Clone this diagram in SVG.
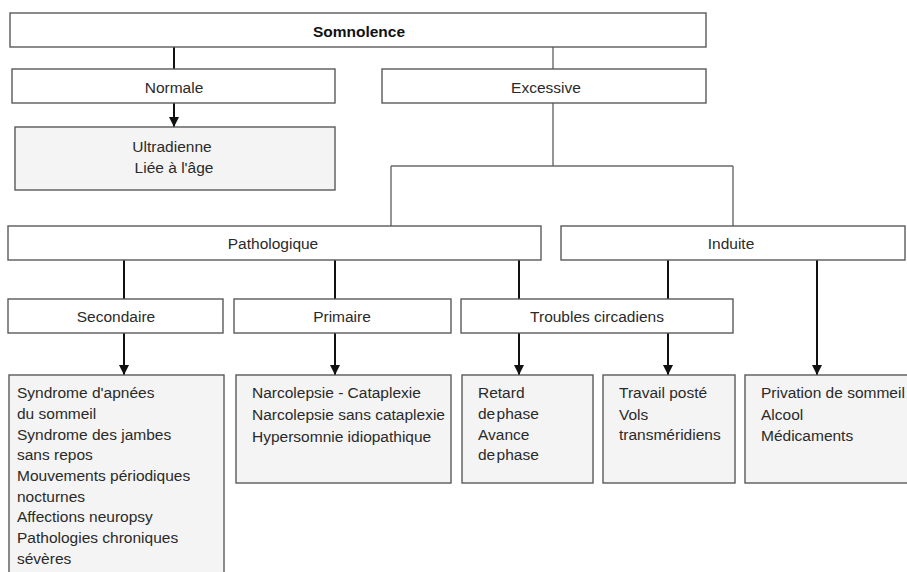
<svg xmlns="http://www.w3.org/2000/svg" width="907" height="572" viewBox="0 0 907 572">
<style>
.box{fill:#ffffff;stroke:#5a5a5a;stroke-width:1.4}
.lst{fill:#f4f4f4;stroke:#5a5a5a;stroke-width:1.4}
.t{font-family:"Liberation Sans",Arial,sans-serif;font-size:15.5px;fill:#2a2a2a}
.c{text-anchor:middle}
.b{font-weight:bold;fill:#111}
.dk{stroke:#111;stroke-width:2;fill:none}
.gr{stroke:#6a6a6a;stroke-width:1.4;fill:none}
</style>
<defs>
<marker id="ah" viewBox="0 0 10 10" refX="10" refY="5" markerWidth="5" markerHeight="5" markerUnits="strokeWidth" orient="auto">
<path d="M0,0 L10,5 L0,10 Z" fill="#111"/>
</marker>
</defs>
<rect width="907" height="572" fill="#ffffff"/>
<g id="connectors">
<line class="dk" x1="174" y1="47" x2="174" y2="69"/>
<line class="gr" x1="553" y1="47" x2="553" y2="69"/>
<line class="dk" x1="174" y1="103" x2="174" y2="127" marker-end="url(#ah)"/>
<path class="gr" d="M553,103 V166 M391,166 H733 M391,166 V226 M733,166 V226"/>
<line class="dk" x1="124" y1="260" x2="124" y2="299"/>
<line class="dk" x1="335" y1="260" x2="335" y2="299"/>
<line class="dk" x1="519" y1="260" x2="519" y2="299"/>
<line class="dk" x1="668" y1="260" x2="668" y2="299"/>
<line class="dk" x1="124" y1="333" x2="124" y2="375" marker-end="url(#ah)"/>
<line class="dk" x1="335" y1="333" x2="335" y2="375" marker-end="url(#ah)"/>
<line class="dk" x1="519" y1="333" x2="519" y2="375" marker-end="url(#ah)"/>
<line class="dk" x1="668" y1="333" x2="668" y2="375" marker-end="url(#ah)"/>
<line class="dk" x1="817" y1="260" x2="817" y2="375" marker-end="url(#ah)"/>
</g>
<g id="somnolence"><rect class="box" x="10" y="13" width="696" height="34"/><text class="t c b" x="359" y="37">Somnolence</text></g>
<g id="normale"><rect class="box" x="12" y="69" width="323" height="34"/><text class="t c" x="174" y="93">Normale</text></g>
<g id="excessive"><rect class="box" x="382" y="69" width="324" height="34"/><text class="t c" x="546" y="93">Excessive</text></g>
<g id="ultradienne"><rect class="lst" x="15" y="127" width="320" height="63"/><text class="t c" x="172" y="152">Ultradienne</text><text class="t c" x="174" y="173">Liée à l'âge</text></g>
<g id="pathologique"><rect class="box" x="8" y="226" width="533" height="34"/><text class="t c" x="273" y="249">Pathologique</text></g>
<g id="induite"><rect class="box" x="561" y="226" width="344" height="34"/><text class="t c" x="731" y="249">Induite</text></g>
<g id="secondaire"><rect class="box" x="8" y="299" width="215" height="34"/><text class="t c" x="116" y="322">Secondaire</text></g>
<g id="primaire"><rect class="box" x="234" y="299" width="217" height="34"/><text class="t c" x="342" y="322">Primaire</text></g>
<g id="troubles"><rect class="box" x="461" y="299" width="272" height="34"/><text class="t c" x="597" y="322">Troubles circadiens</text></g>
<g id="secondaire-list"><rect class="lst" x="9" y="375" width="215" height="210"/>
<text class="t" x="17" y="398">Syndrome d'apnées</text>
<text class="t" x="17" y="419">du sommeil</text>
<text class="t" x="17" y="440">Syndrome des jambes</text>
<text class="t" x="17" y="460">sans repos</text>
<text class="t" x="17" y="481">Mouvements périodiques</text>
<text class="t" x="17" y="502">nocturnes</text>
<text class="t" x="17" y="522">Affections neuropsy</text>
<text class="t" x="17" y="543">Pathologies chroniques</text>
<text class="t" x="17" y="564">sévères</text>
</g>
<g id="primaire-list"><rect class="lst" x="236" y="375" width="215" height="108"/>
<text class="t" x="252" y="398">Narcolepsie - Cataplexie</text>
<text class="t" x="252" y="420">Narcolepsie sans cataplexie</text>
<text class="t" x="252" y="442">Hypersomnie idiopathique</text>
</g>
<g id="retard-list"><rect class="lst" x="462" y="375" width="131" height="108"/>
<text class="t" x="478" y="398">Retard</text>
<text class="t" x="478" y="419" word-spacing="-3">de phase</text>
<text class="t" x="478" y="440">Avance</text>
<text class="t" x="478" y="460" word-spacing="-3">de phase</text>
</g>
<g id="travail-list"><rect class="lst" x="603" y="375" width="132" height="108"/>
<text class="t" x="619" y="398">Travail posté</text>
<text class="t" x="619" y="420">Vols</text>
<text class="t" x="619" y="440">transméridiens</text>
</g>
<g id="privation-list"><rect class="lst" x="745" y="375" width="170" height="108"/>
<text class="t" x="761" y="398">Privation de sommeil</text>
<text class="t" x="761" y="420">Alcool</text>
<text class="t" x="761" y="441">Médicaments</text>
</g>
</svg>
